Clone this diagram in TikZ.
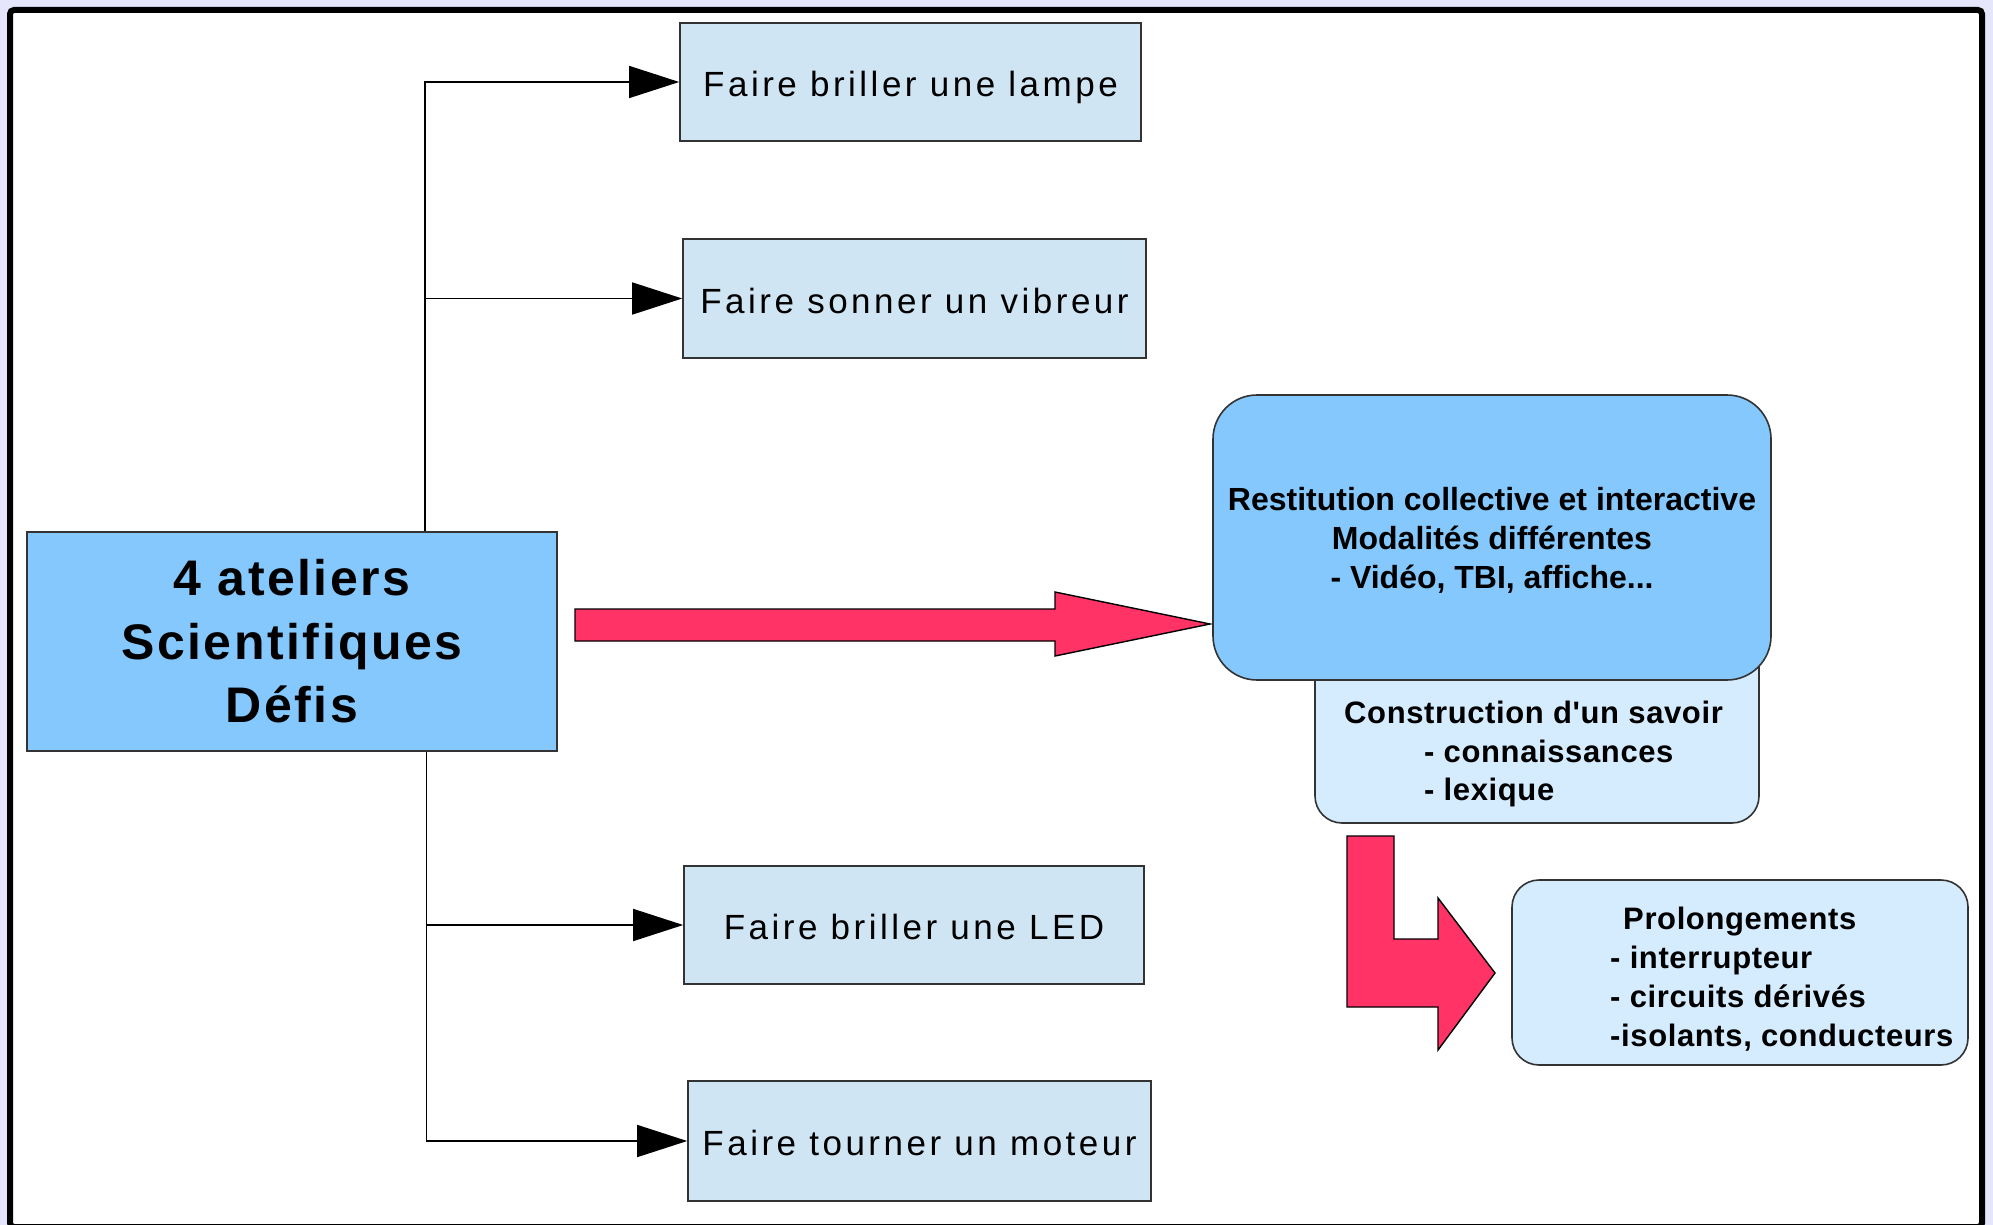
\documentclass[tikz,border=0pt]{standalone}
\usepackage{fontspec}
\setmainfont{Liberation Sans}
\newfontfamily\lsreg[LetterSpace=10]{Liberation Sans}
\newfontfamily\lsmain[LetterSpace=5]{Liberation Sans}
\newfontfamily\lssmall[LetterSpace=2]{Liberation Sans}
\usetikzlibrary{arrows.meta,calc}
\definecolor{bgl}{HTML}{E5E5FC}
\definecolor{mainblue}{HTML}{84C8FD}
\definecolor{paleblue}{HTML}{D0E5F3}
\definecolor{lightblue}{HTML}{D5EBFE}
\definecolor{redarr}{HTML}{FF3366}
\definecolor{edge}{HTML}{333333}
\begin{document}
\begin{tikzpicture}[x=1pt,y=-1pt,
  smallbox/.style={draw=edge,line width=1.6pt,fill=paleblue,inner sep=0pt,
    text height=29pt,text depth=0pt,
    font=\lsreg\fontsize{35}{42}\selectfont},
  mainbox/.style={draw=edge,line width=1.6pt,fill=mainblue,inner sep=0pt,align=center,
    font=\lsmain\bfseries\fontsize{50}{63.5}\selectfont},
  restbox/.style={draw=edge,line width=1.6pt,fill=mainblue,inner sep=0pt,
    rounded corners=44pt},
  resttext/.style={inner sep=0pt,align=center,font=\bfseries\fontsize{32}{39}\selectfont},
  softbox/.style={draw=edge,line width=1.6pt,fill=lightblue,inner sep=0pt,rounded corners=27pt},
  softtext/.style={inner sep=0pt,align=left,anchor=west,
    font=\lssmall\bfseries\fontsize{31}{38.8}\selectfont},
  conn/.style={line width=1.5pt,-{Triangle[length=50pt,width=32pt]}},
  redarrow/.style={fill=redarr,draw=black,line width=1.4pt,line join=miter}]
\useasboundingbox (0,0) rectangle (1993,1225);
\fill[bgl] (0,0) rectangle (1993,1225);
\draw[fill=white,line width=6pt,rounded corners=4pt] (10,10) rectangle (1982,1227);

% left column boxes
\node[mainbox,minimum width=530,minimum height=219] (main) at (292,641.5)
  {4 ateliers\\Scientifiques\\Défis};
\node[smallbox,minimum width=461,minimum height=118] (lampe) at (910.5,82) {Faire briller une lampe};
\node[smallbox,minimum width=463,minimum height=119] (vibreur) at (914.5,298.5) {Faire sonner un vibreur};
\node[smallbox,minimum width=460,minimum height=118] (led) at (914,925) {Faire briller une LED};
\node[smallbox,minimum width=463,minimum height=120] (moteur) at (919.5,1141) {Faire tourner un moteur};

% connectors
\coordinate (tt) at ($(main.north west)!0.75!(main.north east)$);
\coordinate (tb) at ($(main.south west)!0.753!(main.south east)$);
\draw[conn] (tt) |- (lampe.west);
\draw[conn] (tt) |- (vibreur.west);
\draw[conn] (tb) |- (led.west);
\draw[conn] (tb) |- (moteur.west);

% right side
\node[softbox,minimum width=444,minimum height=193] (cons) at (1537,726.5) {};
\node[softtext] (constxt) at (1344,754)
  {Construction d'un savoir\\\hspace*{80pt}- connaissances\\\hspace*{80pt}- lexique};
\node[restbox,minimum width=558,minimum height=285] (rest) at (1492,537.5) {};
\node[resttext] (resttxt) at (1492,540)
  {Restitution collective et interactive\\Modalités différentes\\- Vidéo, TBI, affiche...};
\node[softbox,minimum width=456,minimum height=185] (prol) at (1740,972.5) {};
\node[softtext] (proltxt) at (1610,979)
  {\hspace*{13pt}Prolongements\\- interrupteur\\- circuits dérivés\\-isolants, conducteurs};

% red block arrows
\draw[redarrow] (575,609) -- (1055,609) -- (1055,592) -- (1210,624) -- (1055,656)
  -- (1055,641) -- (575,641) -- cycle;
\draw[redarrow] (1347,836) -- (1394,836) -- (1394,939) -- (1438,939) -- (1438,898)
  -- (1495,973) -- (1438,1050) -- (1438,1007) -- (1347,1007) -- cycle;
\end{tikzpicture}
\end{document}
